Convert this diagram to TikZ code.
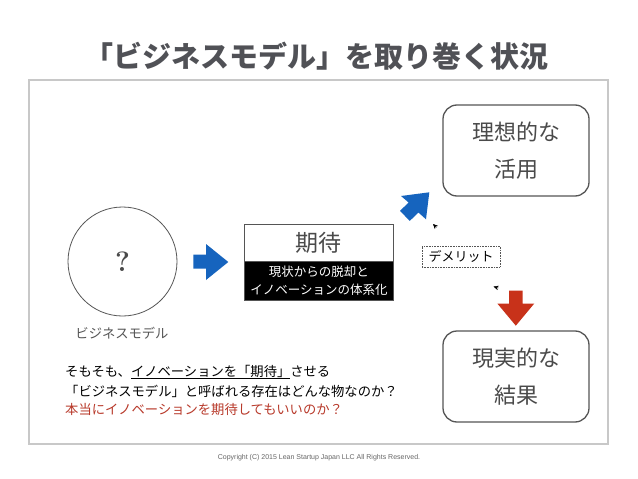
\documentclass[tikz,border=0pt]{standalone}
\usepackage{fontspec}
\newfontfamily\jp{Noto Sans CJK JP}
\newfontfamily\lib{Liberation Sans}
\usetikzlibrary{arrows.meta}
\definecolor{titlegray}{HTML}{505156}
\definecolor{framegray}{HTML}{C8C8C8}
\definecolor{linegray}{HTML}{555555}
\definecolor{textgray}{HTML}{4A4A4A}
\definecolor{arrowblue}{HTML}{1664BE}
\definecolor{arrowred}{HTML}{C8321A}
\definecolor{textred}{HTML}{B8392A}
\definecolor{copygray}{HTML}{666666}
\tikzset{
  titletext/.style={font=\jp\bfseries\fontsize{29}{32}\selectfont, text=titlegray, inner sep=0pt},
  framebox/.style={draw=framegray, line width=2pt},
  roundbox/.style={draw=linegray, line width=1.3pt, rounded corners=14pt, minimum width=146pt, minimum height=91pt, inner sep=0pt,
    align=center, text=textgray, font=\jp\fontsize{22}{37}\selectfont},
  bodytext/.style={font=\jp\fontsize{13.3}{18}\selectfont, anchor=west, inner sep=0pt},
  arrowfill/.style={line join=round},
  smalltip/.style={-{Stealth[length=5pt,width=4.5pt]}, line width=0.3pt, black},
}
\begin{document}
\begin{tikzpicture}[x=1pt,y=-1pt]
\useasboundingbox (0,0) rectangle (638,479);
\fill[white] (0,0) rectangle (638,479);
% title
\node[titletext] (title) at (316.5,56) {「ビジネスモデル」を取り巻く状況};
% frame
\draw[framebox] (29,80) rectangle (608,444);
% business model circle
\node[circle, draw=linegray, line width=0.8pt, minimum size=109pt, inner sep=0pt] (bm) at (122.5,261.5) {};
\node[text=textgray, font=\bfseries\fontsize{28}{30}\selectfont, inner sep=0pt] (q) at (bm.center) {?};
\node[text=linegray, font=\jp\fontsize{13.3}{16}\selectfont, inner sep=0pt] (bmlabel) at (122,333) {ビジネスモデル};
% right blue arrow
\fill[arrowblue, arrowfill] (193.3,254.5) -- (206,254.5) -- (206,244) -- (228.3,262) -- (206,280) -- (206,268.5) -- (193.3,268.5) -- cycle;
% expectation box
\node[draw=linegray, line width=0.8pt, fill=white, minimum width=149pt, minimum height=37pt, inner sep=0pt, anchor=north west,
  text=textgray, font=\jp\fontsize{23}{26}\selectfont] (kitai) at (244,224) {期待};
\node[draw=linegray, line width=0.8pt, fill=black, minimum width=149pt, minimum height=39pt, inner sep=0pt, anchor=north west,
  text=white, align=center, font=\jp\fontsize{12.5}{18.5}\selectfont] (kitaisub) at (244,261) {現状からの脱却と\\イノベーションの体系化};
% diagonal blue arrow
\fill[arrowblue, arrowfill] (400,210.9) -- (408.6,202.5) -- (401,196) -- (429.3,192.3) -- (426,219.3) -- (418.4,212.5) -- (409.8,220.9) -- cycle;
% ideal box
\node[roundbox] (ideal) at (516,150.5) {理想的な\\活用};
% reality box
\node[roundbox] (real) at (516,376.5) {現実的な\\結果};
% red down arrow
\fill[arrowred, arrowfill] (509,290.7) -- (522.5,290.7) -- (522.5,303.5) -- (534.3,303.5) -- (515.8,325.7) -- (497.3,303.5) -- (509,303.5) -- cycle;
% demerit label
\node[draw=linegray, densely dotted, line width=0.6pt, minimum width=78pt, minimum height=21pt, inner sep=0pt,
  font=\jp\fontsize{13}{16}\selectfont] (demerit) at (461,256.5) {デメリット};
% small arrow tips
\coordinate (t1s) at (436.5,227.5);
\coordinate (t1) at (433,224);
\coordinate (t2s) at (498.5,288);
\coordinate (t2) at (493.5,286.5);
\draw[smalltip] (t1s) -- (t1);
\draw[smalltip] (t2s) -- (t2);
% body text
\node[bodytext] (line1) at (65,372) {そもそも、\underline{イノベーションを「期待」}させる};
\node[bodytext] (line2) at (65,391) {「ビジネスモデル」と呼ばれる存在はどんな物なのか？};
\node[bodytext, text=textred] (line3) at (65,409) {本当にイノベーションを期待してもいいのか？};
% copyright
\node[font=\lib\fontsize{7}{8}\selectfont, text=copygray, inner sep=0pt] (copy) at (319,458) {Copyright (C) 2015 Lean Startup Japan LLC All Rights Reserved.};
\end{tikzpicture}
\end{document}
